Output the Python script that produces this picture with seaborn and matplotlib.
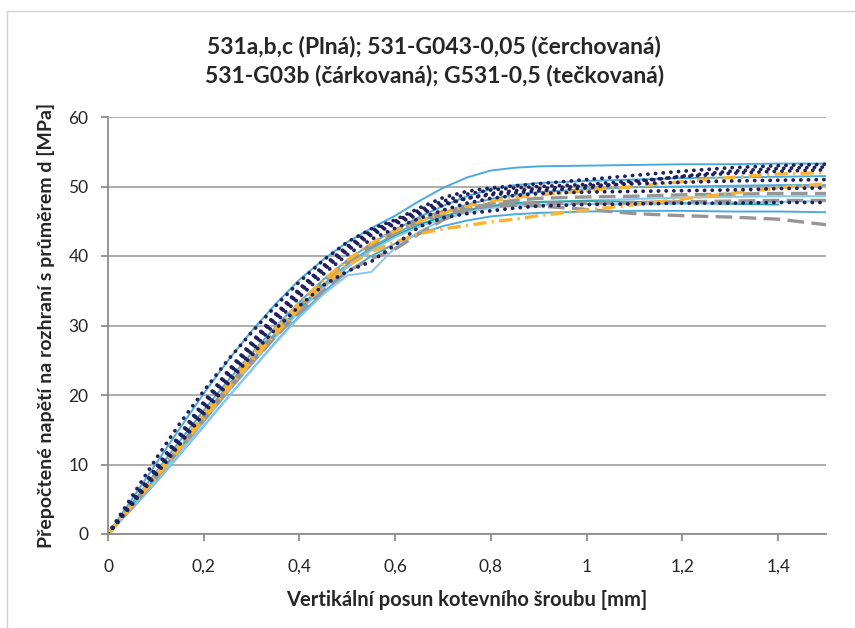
import numpy as np
import pandas as pd
import matplotlib
matplotlib.use("Agg")
import matplotlib.pyplot as plt
import seaborn as sns
from matplotlib.patches import Rectangle

# shared displacement grid [mm]
posun = [0, 0.05, 0.1, 0.15, 0.2, 0.25, 0.3, 0.35, 0.4, 0.45, 0.5, 0.55, 0.6,
         0.65, 0.7, 0.75, 0.8, 0.85, 0.9, 1.0, 1.1, 1.2, 1.3, 1.4, 1.5]

# 531a,b,c - solid
plna_a = [0, 5.0, 10.1, 15.2, 20.2, 24.9, 29.2, 33.1, 36.6, 39.5, 42.0, 44.0, 45.8,
          47.9, 49.8, 51.3, 52.3, 52.7, 52.9, 53.0, 53.1, 53.2, 53.2, 53.3, 53.3]
plna_b = [0, 4.4, 8.9, 13.4, 17.8, 22.0, 26.0, 29.8, 33.4, 36.6, 39.4, 41.8, 43.8,
          45.6, 47.2, 48.6, 49.6, 50.2, 50.5, 50.8, 51.0, 51.2, 51.3, 51.4, 51.5]
plna_c = [0, 3.6, 7.4, 11.4, 15.5, 19.6, 23.6, 27.6, 31.4, 34.8, 37.7, 40.0, 41.8,
          43.2, 44.3, 45.1, 45.7, 46.0, 46.2, 46.4, 46.5, 46.5, 46.4, 46.4, 46.3]
plna_d = [0, 3.7, 7.5, 11.5, 15.6, 19.6, 23.6, 27.5, 31.2, 34.5, 37.2, 37.7, 41.2,
          43.5, 45.2, 46.3, 47.0, 47.4, 47.7, 48.0, 48.2, 48.4, 48.5, 48.6, 48.6]
plna_e = [0, 4.0, 8.2, 12.4, 16.7, 20.9, 25.0, 28.9, 32.6, 35.9, 38.8, 41.2, 43.2,
          44.9, 46.3, 47.4, 48.2, 48.8, 49.2, 49.6, 49.9, 50.0, 50.1, 50.2, 50.2]
plna_f = [0, 3.9, 8.0, 12.2, 16.4, 20.6, 24.6, 28.5, 32.2, 35.5, 38.4, 40.9, 42.9,
          44.5, 45.7, 46.6, 47.2, 47.6, 47.8, 47.9, 47.8, 47.6, 47.5, 47.4, np.nan]
plna_g = [0, 3.8, 7.8, 11.9, 16.1, 20.3, 24.4, 28.3, 32.0, 35.4, 38.4, 40.8, 42.7,
          44.2, 45.4, 46.3, 46.9, 47.2, 47.4, 47.5, 47.4, 47.5, 47.7, 47.8, 47.9]

# 531-G043-0,05 - dash-dot
cerch_1 = [0, 4.0, 8.1, 12.3, 16.6, 20.8, 24.9, 28.8, 32.5, 35.8, 38.6, 40.6, 42.0,
           43.2, 43.9, 44.4, 44.9, 45.3, 45.8, 46.6, 47.4, 48.2, 49.0, 49.8, 50.4]
cerch_2 = [0, 4.2, 8.5, 12.8, 17.2, 21.5, 25.6, 29.5, 33.2, 36.5, 39.4, 41.8, 43.6,
           45.0, 46.2, 47.2, 47.9, 48.4, 48.8, 49.4, 50.0, 50.7, 51.3, 51.8, 52.0]

# 531-G03b - dashed
cark_1 = [0, 4.1, 8.3, 12.6, 16.9, 21.1, 25.2, 29.1, 32.8, 36.1, 39.0, 41.4, 43.3,
          44.9, 46.0, 46.8, 47.2, 47.3, 47.2, 46.7, 46.1, 45.8, 45.6, 45.3, 44.5]
cark_2 = [0, 3.9, 8.0, 12.2, 16.4, 20.6, 24.6, 28.4, 31.9, 35.0, 37.8, 39.6, 41.0,
          43.2, 45.2, 46.6, 47.6, 48.0, 48.3, 48.5, 48.6, 48.8, 48.9, 49.0, 49.0]
cark_3 = [0, 4.1, 8.3, 12.6, 16.9, 21.1, 25.2, 29.1, 32.8, 36.2, 39.2, 41.7, 43.7,
          45.3, 46.4, 47.0, 47.4, 47.6, 47.6, 47.6, 47.7, 47.8, 47.9, 48.0, 48.0]

# G531-0,5 - dotted
teck_1 = [0, 5.4, 10.8, 15.9, 20.6, 25.0, 29.0, 32.8, 36.3, 39.4, 42.0, 43.9, 45.2,
          46.9, 48.4, 49.3, 49.8, 50.1, 50.4, 51.0, 51.6, 52.2, 52.7, 53.0, 53.2]
teck_2 = [0, 4.7, 9.5, 14.3, 19.0, 23.4, 27.6, 31.6, 35.3, 38.6, 41.4, 43.6, 45.0,
          46.6, 47.9, 48.9, 49.5, 49.8, 50.0, 50.3, 50.8, 51.4, 51.9, 52.2, 52.4]
teck_3 = [0, 4.5, 9.1, 13.8, 18.4, 22.8, 27.0, 31.0, 34.7, 38.0, 40.8, 43.0, 44.6,
          46.0, 47.3, 48.3, 49.0, 49.4, 49.7, 50.1, 50.4, 50.6, 50.8, 50.9, 51.0]
teck_4 = [0, 4.3, 8.8, 13.3, 17.8, 22.2, 26.4, 30.4, 34.1, 37.4, 40.2, 42.4, 44.0,
          45.4, 46.6, 47.6, 48.3, 48.7, 49.0, 49.2, 49.3, 49.4, 49.5, 49.7, 49.8]
teck_5 = [0, 4.2, 8.5, 12.9, 17.3, 21.6, 25.7, 29.5, 32.8, 35.8, 37.8, 39.2, 41.6,
          44.2, 45.5, 46.1, 46.5, 46.9, 47.2, 47.4, 47.5, 47.6, 47.6, 47.7, 47.7]
teck_6 = [0, 4.6, 9.3, 14.0, 18.6, 23.1, 27.3, 31.3, 35.0, 38.3, 41.1, 43.3, 44.8,
          46.3, 47.5, 48.3, 48.8, 49.1, 49.4, 49.8, 50.6, 51.5, 52.2, 52.6, 52.8]

x_ticks = [0, 0.2, 0.4, 0.6, 0.8, 1.0, 1.2, 1.4]
x_labels = ["0", "0,2", "0,4", "0,6", "0,8", "1", "1,2", "1,4"]
y_ticks = [0, 10, 20, 30, 40, 50, 60]

blue = "#4aabdc"
light_blue = "#86c8ec"
teal = "#1fa7ad"
orange = "#fbb330"
grey = "#969696"
navy = "#1f205c"

solid = [(plna_a, blue), (plna_b, blue), (plna_c, blue), (plna_d, light_blue),
         (plna_e, blue), (plna_f, teal), (plna_g, light_blue)]
dashdot = [cerch_1, cerch_2]
dashed = [cark_1, cark_2, cark_3]
dotted = [teck_1, teck_2, teck_3, teck_4, teck_5, teck_6]

sns.set_style("white")
plt.rcParams['font.family'] = ['Lato', 'DejaVu Sans']

fig = plt.figure(figsize=(8.55, 6.28), dpi=100)
ax = fig.add_axes([108 / 855, 1 - 534 / 628, 718 / 855, 417 / 628])

def draw(vals, **kw):
    df = pd.DataFrame({"x": posun, "y": vals}).dropna()
    sns.lineplot(data=df, x="x", y="y", ax=ax, estimator=None, sort=False, **kw)

for vals, c in solid:
    draw(vals, color=c, lw=1.4)
for vals in dashed:
    draw(vals, color=grey, lw=2.4, linestyle=(0, (5, 2.2)))
for vals in dashdot:
    draw(vals, color=orange, lw=2.4, linestyle=(0, (4, 1.6, 0.6, 1.6)))
for vals in dotted:
    draw(vals, color=navy, lw=2.7, linestyle=(0, (0.05, 2.0)),
         dash_capstyle="round")

ax.set_xlim(0, 1.5)
ax.set_ylim(0, 60)
ax.set_xticks(x_ticks)
ax.set_xticklabels(x_labels)
ax.set_yticks(y_ticks)
ax.yaxis.grid(True, color="#a6a6a6", lw=1.3)
ax.set_axisbelow(True)
for s in ["top", "right"]:
    ax.spines[s].set_visible(False)
for s in ["left", "bottom"]:
    ax.spines[s].set_color("#8c8c8c")
    ax.spines[s].set_linewidth(1.3)
ax.tick_params(axis="both", direction="out", length=5, width=1.3, color="#8c8c8c",
               labelsize=12.5, labelcolor="#262626", bottom=True, left=True)
ax.tick_params(axis="x", pad=13)
ax.tick_params(axis="y", pad=9)

ax.set_xlabel("Vertikální posun kotevního šroubu [mm]", fontsize=14.5,
              fontweight="bold", color="#262626", labelpad=11)
ax.set_ylabel("Přepočtené napětí na rozhraní s průměrem d [MPa]", fontsize=14,
              fontweight="bold", color="#262626", labelpad=10)

fig.text(0.508, 1 - 61 / 628, "531a,b,c (Plná); 531-G043-0,05 (čerchovaná)\n"
         "531-G03b (čárkovaná); G531-0,5 (tečkovaná)", ha="center", va="center",
         fontsize=16.5, fontweight="bold", color="#262626", linespacing=1.4)

fig.patches.append(Rectangle((7 / 855, -0.1), 1.2, 1 - 11 / 628 + 0.1,
                             transform=fig.transFigure, fill=False,
                             ec="#d0d0d0", lw=1))

fig.savefig("out.png", dpi=100)
